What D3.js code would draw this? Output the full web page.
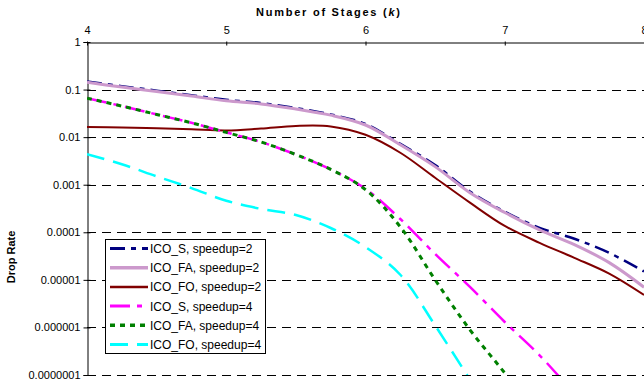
<!DOCTYPE html>
<html>
<head>
<meta charset="utf-8">
<script src="https://cdn.jsdelivr.net/npm/d3@7"></script>
<style>
    body { margin: 0; background: #fff; }
    text { font-family: Arial, "Liberation Sans", sans-serif; }
</style>
</head>
<body>
<div id="chart"></div>
<script>
// number of stages (k)
var stages = [4, 4.25, 4.5, 4.75, 5, 5.25, 5.5, 5.75, 6, 6.25, 6.5, 6.75, 7, 7.25, 7.5, 7.75, 8];

// drop rates
var icoS2 = [0.148, 0.118, 0.095, 0.076, 0.061, 0.052, 0.041, 0.030, 0.019, 0.0072, 0.0026, 0.00072, 0.00027, 0.000124, 0.000073, 0.000037, 0.000015];
var icoFA2 = [0.142, 0.113, 0.091, 0.073, 0.058, 0.050, 0.039, 0.029, 0.018, 0.0069, 0.0024, 0.00068, 0.00026, 0.000112, 0.000055, 0.000023, 0.000007];
var icoFO2 = [0.0164, 0.0160, 0.0153, 0.0146, 0.0138, 0.0152, 0.0172, 0.0168, 0.0112, 0.0047, 0.0014, 0.00042, 0.000136, 0.00006, 0.000029, 0.0000135, 0.0000048];
var icoS4 = [0.066, 0.045, 0.030, 0.020, 0.0126, 0.0079, 0.0043, 0.0021, 0.00082, 0.00019, 0.000035, 0.0000071, 0.0000013, 0.00000026, 0.00000004];
var icoFA4 = [0.066, 0.045, 0.030, 0.020, 0.0126, 0.0079, 0.0043, 0.0021, 0.00079, 0.00013, 0.00001, 0.00000089, 0.00000011, 0.000000012];
var icoFO4 = [0.0044, 0.0027, 0.0015, 0.00085, 0.00046, 0.00031, 0.00023, 0.000123, 0.000049, 0.0000128, 0.0000011, 0.00000008];

var xTicks = [4, 5, 6, 7, 8];
var yTicks = [1, 0.1, 0.01, 0.001, 0.0001, 0.00001, 0.000001, 0.0000001];
var yTickLabels = ['1', '0.1', '0.01', '0.001', '0.0001', '0.00001', '0.000001', '0.0000001'];

var seriesNames = ['ICO_S, speedup=2', 'ICO_FA, speedup=2', 'ICO_FO, speedup=2',
    'ICO_S, speedup=4', 'ICO_FA, speedup=4', 'ICO_FO, speedup=4'];
var seriesValues = [icoS2, icoFA2, icoFO2, icoS4, icoFA4, icoFO4];

var styles = [
    {color: '#000080', width: 2.5, dash: '15,6,5,6'},
    {color: '#cc99cc', width: 3, dash: null},
    {color: '#800000', width: 2, dash: null},
    {color: '#ff00ff', width: 2.5, dash: '20,7,5,7'},
    {color: '#008000', width: 3, dash: '5,5'},
    {color: '#00ffff', width: 2.5, dash: '18,9'}
];

function drawChart() {
    var W = 644, H = 382;
    var plotLeft = 87, plotRight = 644, plotTop = 42, plotBottom = 375;

    var svg = d3.select('#chart').append('svg')
        .attr('width', W)
        .attr('height', H);

    svg.append('rect').attr('width', W).attr('height', H).attr('fill', '#fff');

    var x = d3.scaleLinear().domain([4, 8]).range([plotLeft, plotRight]);
    var y = d3.scaleLog().domain([0.0000001, 1]).range([plotBottom, plotTop]);

    svg.append('defs').append('clipPath').attr('id', 'plot')
        .append('rect')
        .attr('x', plotLeft).attr('y', plotTop)
        .attr('width', plotRight - plotLeft).attr('height', plotBottom - plotTop);

    // dashed gridlines
    svg.append('g')
        .selectAll('line')
        .data(yTicks.slice(1))
        .enter().append('line')
        .attr('x1', plotLeft)
        .attr('x2', plotRight)
        .attr('y1', function (d) { return Math.round(y(d)) + 0.5; })
        .attr('y2', function (d) { return Math.round(y(d)) + 0.5; })
        .attr('stroke', '#000')
        .attr('stroke-width', 1)
        .attr('stroke-dasharray', '9,6');

    // top x axis
    var xAxis = svg.append('g')
        .attr('transform', 'translate(0,' + (plotTop + 0.5) + ')')
        .call(d3.axisTop(x).tickValues(xTicks).tickFormat(d3.format('d')).tickSize(0).tickPadding(9));
    xAxis.select('.domain').attr('stroke', '#000');
    xAxis.selectAll('.tick line').attr('y1', -1).attr('y2', 3).attr('stroke', '#000');
    xAxis.selectAll('text').attr('font-size', 11).attr('fill', '#000');

    // left y axis
    var yAxis = svg.append('g')
        .attr('transform', 'translate(' + (plotLeft + 0.5) + ',0)')
        .call(d3.axisLeft(y).tickValues(yTicks).tickFormat(function (d, i) { return yTickLabels[i]; })
            .tickSize(4).tickPadding(3));
    yAxis.select('.domain').attr('stroke', '#000');
    yAxis.selectAll('.tick line').attr('x1', -4).attr('x2', 3).attr('stroke', '#000');
    yAxis.selectAll('text').attr('font-size', 11).attr('fill', '#000');

    var line = d3.line()
        .x(function (d) { return x(d[0]); })
        .y(function (d) { return y(d[1]); })
        .curve(d3.curveCatmullRom.alpha(0.5));

    var lines = svg.append('g').attr('clip-path', 'url(#plot)');
    seriesValues.forEach(function (vals, i) {
        var pts = vals.map(function (v, j) { return [stages[j], v]; });
        lines.append('path')
            .datum(pts)
            .attr('d', line)
            .attr('fill', 'none')
            .attr('stroke', styles[i].color)
            .attr('stroke-width', styles[i].width)
            .attr('stroke-dasharray', styles[i].dash);
    });

    // axis titles
    var title = svg.append('text')
        .attr('x', 256)
        .attr('y', 16)
        .attr('font-size', 11)
        .attr('font-weight', 'bold')
        .attr('textLength', 144)
        .attr('lengthAdjust', 'spacing');
    title.append('tspan').text('Number of Stages (');
    title.append('tspan').attr('font-style', 'italic').text('k');
    title.append('tspan').text(')');

    svg.append('text')
        .attr('transform', 'translate(15,257) rotate(-90)')
        .attr('text-anchor', 'middle')
        .attr('font-size', 11)
        .attr('font-weight', 'bold')
        .text('Drop Rate');

    // legend
    var legend = svg.append('g').attr('transform', 'translate(105,239)');
    legend.append('rect')
        .attr('x', 0.5).attr('y', 0.5)
        .attr('width', 160).attr('height', 114)
        .attr('fill', '#fff')
        .attr('stroke', '#000');

    var item = legend.selectAll('.item')
        .data(seriesNames)
        .enter().append('g')
        .attr('class', 'item')
        .attr('transform', function (d, i) { return 'translate(0,' + (9.5 + i * 19.2) + ')'; });

    item.append('line')
        .attr('x1', 5).attr('x2', 43)
        .attr('stroke', function (d, i) { return styles[i].color; })
        .attr('stroke-width', function (d, i) { return styles[i].width + 0.5; })
        .attr('stroke-dasharray', function (d, i) { return styles[i].dash; });

    item.append('text')
        .attr('x', 45)
        .attr('y', 4.5)
        .attr('font-size', 12)
        .attr('fill', '#000')
        .text(function (d) { return d; });
}

drawChart();
</script>
</body>
</html>
